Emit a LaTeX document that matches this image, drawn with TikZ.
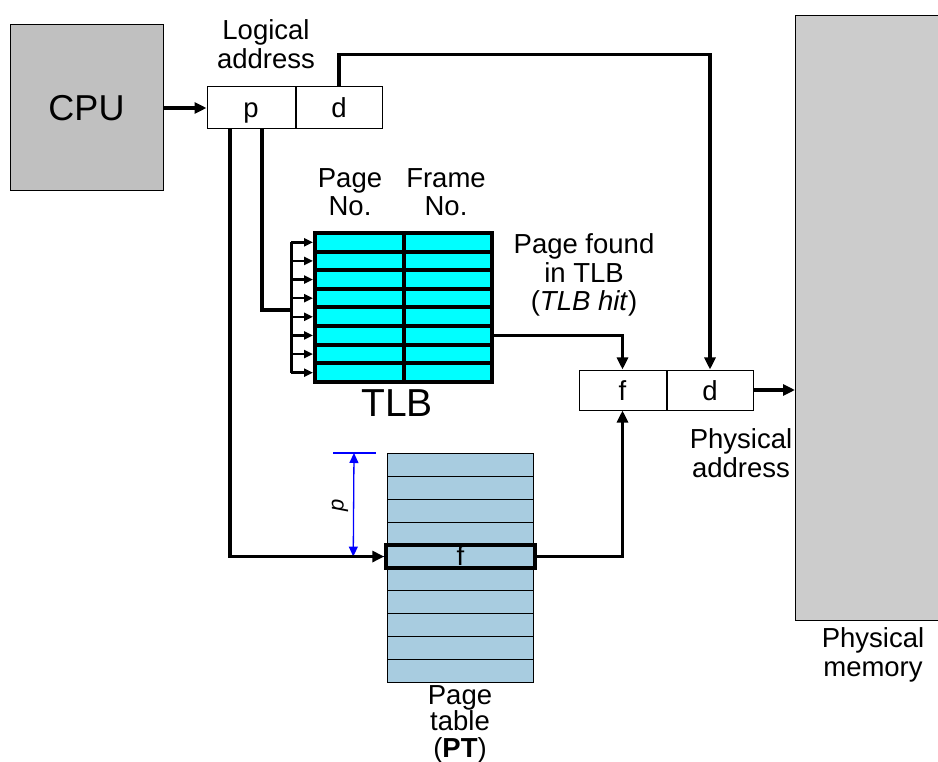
\documentclass[tikz,border=0pt]{standalone}
\usepackage{xcolor}
\usepackage{fontspec}
\setmainfont{Liberation Sans}
\usepackage{tikz}
\usetikzlibrary{positioning,arrows.meta}

\definecolor{cpugray}{RGB}{192,192,192}
\definecolor{memgray}{RGB}{204,204,204}
\definecolor{tlbcyan}{RGB}{0,255,255}
\definecolor{ptblue}{RGB}{168,204,224}

\begin{document}
\begin{tikzpicture}[
  x=1pt, y=-1pt,
  font=\fontsize{27.5}{28.5}\selectfont,
  cell/.style={draw, line width=1pt, minimum height=42pt, inner sep=0pt, text height=21pt, text depth=1pt},
  tlbrow/.style={draw, line width=4pt, fill=tlbcyan, minimum width=177pt, minimum height=18.625pt, inner sep=0pt, anchor=north west},
  ptrow/.style={draw, line width=1pt, fill=ptblue, minimum width=146pt, minimum height=22.9pt, inner sep=0pt, anchor=north west},
  lbl/.style={align=center, inner sep=0pt},
  link/.style={line width=3.5pt},
  arr/.style={-{Triangle[length=12pt,width=11pt]}, line width=3.5pt},
  busarr/.style={-{Triangle[length=9pt,width=8pt]}, line width=2.5pt},
  dim/.style={blue, line width=1.3pt}
]
\useasboundingbox (0,0) rectangle (938,762);

% CPU and memory
\node[draw, line width=1pt, fill=cpugray, minimum width=153pt, minimum height=166pt, font=\fontsize{36}{40}\selectfont] (cpu) at (86.5,108) {CPU};
\node[draw, line width=1pt, fill=memgray, minimum width=170pt, minimum height=605pt, anchor=north west] (mem) at (795,15) {};

% logical address
\node[cell, minimum width=88pt] (lap) at (251,108) {p};
\node[cell, minimum width=86pt, right=0pt of lap] (lad) {d};
\node[lbl] at (266,44) {Logical\\address};

% physical address
\node[cell, minimum width=87pt, minimum height=40pt] (phf) at (622.5,390) {f};
\node[cell, minimum width=86pt, minimum height=40pt, right=0pt of phf] (phd) {d};
\node[lbl] at (741,453) {Physical\\address};
\node[lbl] at (873,655) {Physical\\memory};

% TLB
\foreach \i in {1,...,8}
  \node[tlbrow] (tlb\i) at (313,{231+(\i-1)*18.625}) {};
\draw[line width=4pt] (tlb1.north) -- (tlb8.south);
\node[lbl] at (350,192) {Page\\No.};
\node[lbl] at (446,192) {Frame\\No.};
\node[lbl, font=\fontsize{39}{42}\selectfont] at (397,403) {TLB};
\node[lbl] at (584,275) {Page found\\in TLB\\(\textit{TLB hit})};

% page table
\foreach \i in {1,...,10}
  \node[ptrow] (pt\i) at (387,{453+(\i-1)*22.9}) {};
\node[draw, line width=3.5pt, minimum width=149pt, minimum height=22.9pt, inner sep=0pt, text height=20pt, text depth=2pt] (hit) at (pt5.center) {f};
\node[lbl, font=\fontsize{27.5}{26.5}\selectfont] at (460,724) {Page\\table\\(\textbf{PT})};

% offset p into the page table
\draw[dim] ([xshift=-54pt]pt1.north west) -- ([xshift=-11pt]pt1.north west);
\draw[dim] ([xshift=-52pt]hit.west) -- (hit.west);
\draw[dim, {Triangle[length=10pt,width=9pt]}-{Triangle[length=10pt,width=9pt]}] ([xshift=-33pt]pt1.north west) -- ([xshift=-31pt]hit.west);
\node[rotate=90, font=\fontsize{22}{24}\selectfont\itshape] at (340,505) {p};

% bus into the TLB rows
\coordinate (busin) at (291,310);
\draw[line width=3pt] ([xshift=-22pt]tlb1.west) -- ([xshift=-22pt]tlb8.west);
\foreach \i in {1,...,8}
  \draw[busarr] ([xshift=-22pt]tlb\i.west) -- (tlb\i.west);

% connectors
\draw[arr] (cpu.east) -- (lap.west);
\draw[arr] (lad.north) -- ++(0,-32) -| (phd.north);
\draw[link] ([xshift=11pt]lap.south) |- (busin);
\draw[arr] ([xshift=-21pt]lap.south) |- (hit.west);
\draw[arr] (tlb6.east) -| (phf.north);
\draw[arr] (hit.east) -| (phf.south);
\draw[arr] (phd.east) -- (phd.east -| mem.west);
\end{tikzpicture}
\end{document}
